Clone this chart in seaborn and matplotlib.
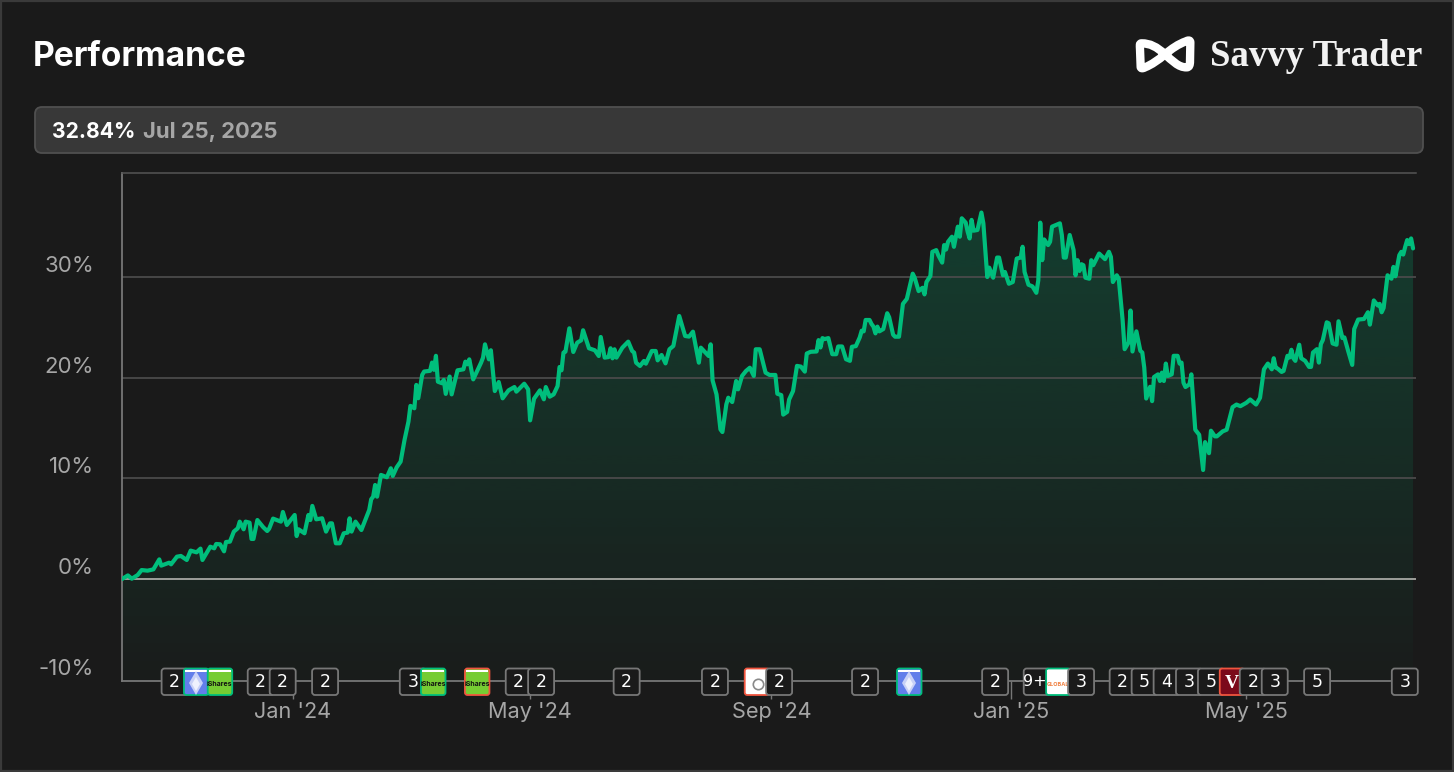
# Performance chart card, dark theme
import numpy as np
import pandas as pd
import seaborn as sns
import matplotlib.pyplot as plt
import matplotlib.dates as mdates
from matplotlib.colors import to_rgb
from matplotlib.patches import FancyBboxPatch, Rectangle, PathPatch
from matplotlib.path import Path
from matplotlib.transforms import ScaledTranslation

# values: days since start_date, performance in %
start_date = "2023-10-06"
days = [
    0, 3, 5, 8, 10, 13, 16, 19, 20, 24, 25, 28, 30, 33, 35, 38, 40, 41, 45, 47,
    48, 50, 52, 53, 55, 57, 59, 60, 62, 63, 65, 66, 67, 69, 72, 74, 75, 77, 81, 82,
    84, 88, 89, 90, 93, 95, 96, 97, 99, 102, 104, 106, 107, 109, 111, 113, 115, 116, 117, 119,
    122, 126, 127, 128, 129, 130, 132, 135, 137, 138, 140, 142, 144, 146, 147, 149, 150, 151, 153, 154,
    157, 158, 159, 160, 161, 163, 164, 165, 167,
    168, 171, 174, 175, 176, 177, 179, 183, 184, 185, 187, 188, 190, 192, 194, 197, 200, 201, 205, 207,
    208, 210, 213, 215, 216, 218, 220, 222, 223, 224, 225, 226, 228, 230, 232, 234, 235, 238, 241, 243,
    244, 246, 248, 249, 250, 251, 252, 255, 258, 260, 261, 262, 264, 266, 267, 270, 272, 273, 275, 277,
    279, 281, 284, 287, 289, 291, 294, 295, 299, 300, 301, 303, 305, 306, 308, 309, 311, 313, 314, 316,
    318, 320, 322, 323, 325, 328, 330,
    333, 334, 336, 337, 339, 340, 342, 344, 346, 348, 349, 351, 354, 355, 356, 357, 358, 360, 362, 364,
    365, 367, 369, 371, 372, 374, 376, 377, 378, 379, 381, 382, 383, 384, 385, 386, 388, 390, 391, 393,
    394, 396, 398, 400, 403, 404, 406, 408, 409, 410, 412, 413, 415, 416, 418, 419, 420, 421, 423, 424,
    426, 427, 428, 430, 431, 432, 433, 434, 436, 438, 439, 441, 442, 444, 446, 447, 449, 450, 452, 454,
    456, 458, 459, 460, 462, 464, 466, 467, 468, 469, 470, 472, 473, 474, 478, 479, 480, 481, 483, 485,
    486, 487, 488, 489, 490, 491, 493, 494, 495, 498,
    501, 503, 504, 505, 507, 508, 510, 511, 513, 514, 515, 517, 519, 520, 521, 522, 524, 525, 526, 528,
    529, 530, 531, 532, 533, 535, 536, 538, 539, 540, 541, 542, 544, 545, 547, 549, 551, 552, 554, 555,
    557, 558, 561, 563, 566, 568, 570, 573, 575, 578, 580, 582, 584, 586, 587, 588, 589, 591, 592, 594,
    595, 596, 597, 598, 600, 601, 603, 605, 606, 607, 609, 610, 611, 612, 614, 615, 617, 619, 620, 622,
    623, 625, 627, 628, 630, 633, 635, 636, 638, 640, 641, 642, 643, 645, 647, 648, 649, 651, 652, 653,
    654, 655, 656, 657, 658,
]
perf = [
    0.0, 0.36, 0.03, 0.40, 0.89, 0.83, 0.96, 1.95, 1.33, 1.62, 1.46, 2.22, 2.29, 1.89, 2.82, 2.65, 3.02, 1.89, 3.21, 3.05,
    3.48, 3.45, 2.75, 3.68, 3.71, 4.71, 5.04, 5.70, 4.94, 5.70, 5.60, 3.98, 3.98, 5.86, 5.14, 4.77, 5.00, 6.00, 5.70, 6.66,
    5.37, 6.36, 4.27, 4.94, 4.54, 6.36, 5.86, 7.26, 5.93, 6.03, 4.71, 5.53, 5.53, 3.55, 3.55, 4.54, 4.61, 6.03, 4.71, 5.70,
    4.87, 6.86, 7.92, 8.18, 9.34, 8.18, 10.34, 10.11, 11.0, 10.24, 11.1, 11.66, 13.82, 15.64, 17.2, 16.96, 19.28, 17.96, 20.28, 20.61,
    20.68, 21.5, 20.78, 22.17, 19.6, 19.45, 19.78, 18.39, 20.11,
    18.34, 20.73, 20.83, 21.59, 21.33, 21.82, 19.83, 21.49, 21.99, 23.31, 21.82, 22.72, 18.67, 19.57, 17.95, 18.74, 19.07, 18.61, 19.40, 18.84,
    15.76, 17.91, 18.74, 17.85, 19.07, 18.11, 18.34, 19.17, 21.06, 20.73, 22.49, 22.58, 24.90, 22.55, 23.48, 23.71, 24.71, 22.92, 22.72, 22.15,
    24.04, 21.99, 22.05, 22.92, 21.92, 22.82, 21.99, 22.98, 23.58, 22.65, 22.49, 21.49, 21.16, 21.66, 21.39, 22.65, 22.65, 21.72, 22.25, 21.42,
    22.82, 23.15, 26.13, 24.14, 24.08, 24.57, 21.49, 22.98, 22.15, 23.31, 19.73, 18.34, 14.86, 14.60, 17.35, 18.01, 17.58, 19.67, 18.84, 20.17,
    20.66, 20.99, 20.17, 22.82, 22.82, 20.50, 20.27,
    20.27, 18.40, 18.27, 16.33, 16.60, 17.83, 18.67, 21.17, 21.10, 20.60, 22.40, 22.57, 22.60, 23.73, 23.00, 23.93, 23.83, 23.93, 22.33, 22.33,
    23.10, 23.10, 21.83, 21.67, 23.07, 23.13, 24.0, 24.67, 24.60, 25.73, 25.73, 25.33, 25.07, 24.40, 25.07, 24.60, 24.83, 26.40, 26.00, 24.27,
    24.07, 24.07, 27.33, 27.83, 30.33, 29.93, 28.60, 28.93, 28.27, 29.50, 30.10, 32.50, 32.67, 32.17, 31.43, 33.17, 32.73, 33.50, 34.0, 33.0,
    35.0, 34.0, 35.83, 35.40, 34.50, 33.83, 35.67, 34.60, 34.67, 36.40, 35.33, 30.0, 30.93, 29.93, 31.93, 31.93, 30.17, 30.50, 29.33, 29.50,
    31.83, 31.93, 33.0, 30.50, 29.23, 29.07, 28.43, 29.67, 35.40, 31.67, 33.73, 33.17, 33.5, 35.0, 35.33, 34.17, 31.93, 31.93, 34.17, 32.67,
    30.17, 31.67, 30.60, 31.27, 31.17, 29.93, 29.83, 31.67, 31.17, 32.33,
    31.77, 32.50, 32.0, 29.5, 30.17, 29.83, 25.67, 22.83, 23.50, 26.67, 22.60, 24.60, 22.67, 22.50, 21.0, 17.93, 19.10, 17.67, 20.07, 20.33,
    19.67, 20.50, 19.67, 21.40, 20.17, 20.33, 22.17, 22.17, 21.40, 21.50, 19.50, 19.07, 19.33, 20.33, 14.83, 14.33, 10.83, 13.60, 12.50, 14.73,
    14.17, 14.17, 14.67, 14.83, 17.07, 17.33, 17.17, 17.50, 17.83, 17.33, 18.0, 20.83, 21.40, 20.83, 21.93, 21.0, 20.90, 20.57, 20.67, 22.17,
    22.0, 22.77, 21.93, 21.67, 23.27, 21.93, 21.67, 21.07, 21.07, 22.50, 22.83, 21.50, 23.33, 23.73, 25.50, 25.40, 23.40, 23.27, 25.60, 23.93,
    24.0, 22.60, 21.27, 24.83, 25.77, 25.83, 26.50, 25.27, 27.67, 27.17, 27.33, 26.50, 26.93, 30.17, 29.83, 31.0, 30.07, 32.17, 32.50, 32.23,
    33.0, 33.67, 33.27, 33.83, 32.84,
]

y_ticks = [-10, 0, 10, 20, 30]
y_labels = ["-10%", "0%", "10%", "20%", "30%"]
x_ticks = ["2024-01-01", "2024-05-01", "2024-09-01", "2025-01-01", "2025-05-01"]
x_labels = ["Jan '24", "May '24", "Sep '24", "Jan '25", "May '25"]

# event badges on the time axis
badge_days = [26.8, 37.7, 49.8, 70.7, 81.9, 103.5, 148.2, 158.5, 180.9, 202.2, 213.6,
              257.2, 302.2, 323.5, 334.9, 378.7, 401.1, 445, 466.2, 477.1, 488.8,
              510, 521.2, 532.4, 543.8, 555, 565.6, 576.3, 587.5, 609.1, 653.8]
badge_labels = ["2", "eth", "ishares", "2", "2", "2", "3", "ishares", "ishares_red", "2", "2",
                "2", "2", "circle", "2", "2", "eth", "2", "9+", "global", "3",
                "2", "5", "4", "3", "5", "v", "2", "3", "5", "3"]

BG = "#1a1a1a"
GREEN = "#00be7c"
RED = "#f0553f"
AXIS = "#777777"
GRAY = "#a6a6a6"

sns.set_theme(style="ticks", rc={"figure.facecolor": BG, "axes.facecolor": BG,
                                 "savefig.facecolor": BG})
plt.rcParams["font.family"] = ["Inter", "DejaVu Sans"]

df = pd.DataFrame({"date": pd.Timestamp(start_date) + pd.to_timedelta(days, unit="D"),
                   "perf": perf})

W, H = 1454, 772
fig = plt.figure(figsize=(W / 100, H / 100), dpi=100)
ax = fig.add_axes([122 / W, (H - 681) / H, (1416 - 122) / W, (681 - 173) / H])

g = sns.lineplot(data=df, x="date", y="perf", ax=ax, color=GREEN, linewidth=3.0, zorder=4)
g.lines[0].set_solid_joinstyle("round")

x0 = pd.Timestamp(start_date)
x1 = x0 + pd.Timedelta(days=659.5)
y0, y1 = -10.13, 40.33

# gradient fill under the line
area = ax.fill_between(df["date"], df["perf"], y0, facecolor="none", edgecolor="none")
grad = np.zeros((256, 1, 4))
grad[..., :3] = to_rgb(GREEN)
grad[..., 3] = np.linspace(0.22, 0.015, 256)[:, None]
im = ax.imshow(grad, aspect="auto", zorder=1, interpolation="bilinear",
               extent=[mdates.date2num(x0), mdates.date2num(x1), y0, 36.4])
im.set_clip_path(area.get_paths()[0], ax.transData)

ax.set_xlim(x0, x1)
ax.set_ylim(y0, y1)
ax.set_xlabel("")
ax.set_ylabel("")

for v in [10, 20, 30]:
    ax.axhline(v, color="#4a4a4a", lw=1.3, zorder=2)
ax.axhline(0, color="#a8a8a4", lw=1.3, zorder=2)

ax.spines["right"].set_visible(False)
ax.spines["top"].set_color("#555555")
ax.spines["top"].set_linewidth(1.1)
for side in ["left", "bottom"]:
    ax.spines[side].set_color(AXIS)
    ax.spines[side].set_linewidth(1.3)

ax.set_yticks(y_ticks, y_labels)
ax.set_xticks(pd.to_datetime(x_ticks), x_labels)
ax.tick_params(axis="y", length=0, pad=20.2, labelsize=16, labelcolor=GRAY)
ax.tick_params(axis="x", length=13, width=1, color=AXIS, pad=2, labelsize=15.6, labelcolor=GRAY)
for lab in ax.get_yticklabels():
    lab.set_verticalalignment("center")
    lab.set_transform(lab.get_transform() + ScaledTranslation(0, 11 / 100, fig.dpi_scale_trans))

# overlay in image pixels for the card chrome and badges
ov = fig.add_axes([0, 0, 1, 1], zorder=10)
ov.set_xlim(0, W)
ov.set_ylim(H, 0)
ov.axis("off")
ov.patch.set_visible(False)


def rbox(x, y, w, h, r, fc, ec, lw=1.0, zorder=3):
    p = FancyBboxPatch((x, y), w, h, boxstyle=f"round,pad=0,rounding_size={r}",
                       fc=fc, ec=ec, lw=lw, zorder=zorder)
    ov.add_patch(p)
    return p


# card border
ov.add_patch(Rectangle((0.75, 0.75), W - 1.5, H - 1.5, fc="none", ec="#3a3a3a", lw=1.6))

ov.text(33, 57, "Performance", color="white", fontsize=24.1, fontweight="bold", va="center")

# value pill
rbox(35, 107, 1388, 46, 7, "#383838", "#505050", lw=1.3)
ov.text(52, 132, "32.84%", color="white", fontsize=15.2, fontweight="bold", va="center")
ov.text(143, 132, "Jul 25, 2025", color=GRAY, fontsize=15.8, fontweight="bold", va="center")

# logo knot and name
M, L, C, Z = Path.MOVETO, Path.LINETO, Path.CURVE4, Path.CLOSEPOLY
logo_pts = [(195, 103),
            (170, 80), (150, 70), (125, 70),
            (117, 70), (120, 77), (120, 87),
            (122, 140),
            (122, 146), (128, 146), (135, 142),
            (155, 134), (175, 120), (195, 103),
            (215, 120), (235, 143), (260, 142),
            (268, 142), (270, 134), (270, 124),
            (271, 68),
            (271, 60), (265, 60), (258, 64),
            (235, 72), (215, 86), (195, 103),
            (195, 103)]
logo_codes = [M, C, C, C, C, C, C, L, C, C, C, C, C, C, C, C, C, C, C, C, L, C, C, C, C, C, C, Z]
logo_xy = [(1100 + a / 3, 20 + b / 3) for a, b in logo_pts]
ov.add_patch(PathPatch(Path(logo_xy, logo_codes), fc="none", ec="white", lw=6, joinstyle="round"))
ov.text(1210, 56, "Savvy Trader", color="#f2f2f2", fontsize=26.5, family="Liberation Serif",
        fontweight="bold", va="center", ha="left")

# badges, later ones sit over earlier ones
icon_fill = {"eth": "#627eea", "ishares": "#76cc33", "ishares_red": "#76cc33",
             "circle": "#ffffff", "global": "#ffffff", "v": "#7b0a1b"}
icon_edge = {"eth": GREEN, "ishares": GREEN, "ishares_red": RED,
             "circle": RED, "global": GREEN, "v": RED}
for d, lab in zip(badge_days, badge_labels):
    px = ax.transData.transform((mdates.date2num(x0 + pd.Timedelta(days=d)), 0))[0]
    if lab in icon_fill:
        l, t, w, h = px - 12, 668.5, 24.5, 26.5
        rbox(l, t, w, h, 2.5, icon_fill[lab], icon_edge[lab], lw=1.3)
        if lab != "v":
            ov.add_patch(Rectangle((l + 1, t + 1), w - 2, 2, fc="white", ec="none", zorder=3))
        if lab == "eth":
            ov.plot(px, 683, marker="d", ms=12, color="#c8d1f7", mew=0, zorder=3)
            ov.plot(px, 684, marker="d", ms=7, color="#eef1fd", mew=0, zorder=3)
        elif lab.startswith("ishares"):
            ov.text(px, 684, "iShares", color="#111111", fontsize=5, fontweight="bold",
                    ha="center", va="center", zorder=3)
        elif lab == "circle":
            ov.plot(px + 1, 684, marker="o", ms=7.5, mfc="white", mec="#8a8a8a", mew=1.2, zorder=3)
        elif lab == "global":
            ov.text(px, 684, "GLOBAL", color="#f08040", fontsize=4, fontweight="bold",
                    ha="center", va="center", zorder=3)
        elif lab == "v":
            ov.text(px, 683, "V", color="white", fontsize=14, fontweight="bold",
                    family="Liberation Serif", ha="center", va="center", zorder=3)
    else:
        rbox(px - 13, 668.5, 26, 26.5, 3, BG, AXIS, lw=1.3)
        size = 11.5 if len(lab) > 1 else 12.5
        ov.text(px - (2 if len(lab) > 1 else 0), 682, lab, color="white", fontsize=size,
                family="DejaVu Sans", ha="center", va="center", zorder=3)

fig.savefig("out.png", dpi=100, facecolor=BG)
